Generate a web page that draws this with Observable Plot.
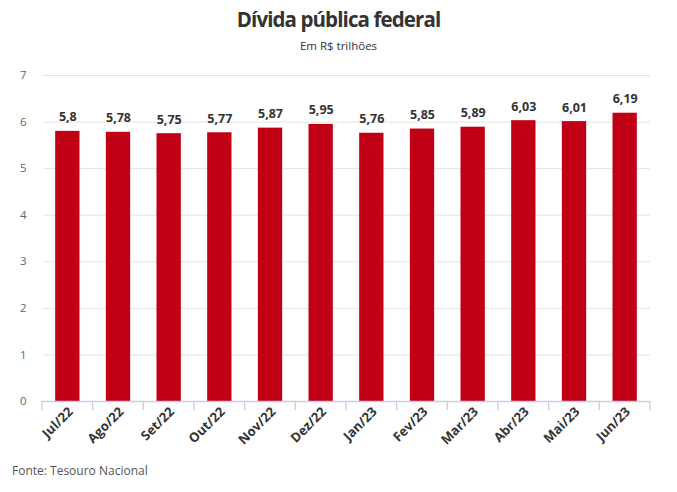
<!DOCTYPE html>
<html>
<head>
<meta charset="utf-8">
<script src="https://cdn.jsdelivr.net/npm/d3@7"></script>
<script src="https://cdn.jsdelivr.net/npm/@observablehq/plot@0.6"></script>
<style>
  html, body { margin: 0; padding: 0; background: #fff; }
  body { width: 677px; height: 492px; overflow: hidden; font-family: "Open Sans", sans-serif; }
  #title { text-align: center; font-weight: 700; font-size: 20.5px; letter-spacing: -0.9px; color: #333; height: 30px; line-height: 30px; padding-top: 4px; }
  #subtitle { text-align: center; font-size: 11.5px; color: #333; height: 22px; line-height: 20px; padding-top: 2px; }
  #caption { font-size: 12px; color: #555; padding-left: 12px; height: 30px; line-height: 18px; }
</style>
</head>
<body>
<div id="title">Dívida pública federal</div>
<div id="subtitle">Em R$ trilhões</div>
<div id="chart"></div>
<div id="caption">Fonte: Tesouro Nacional</div>
<script>
const months = ["Jul/22","Ago/22","Set/22","Out/22","Nov/22","Dez/22","Jan/23","Fev/23","Mar/23","Abr/23","Mai/23","Jun/23"];
const values = [5.8, 5.78, 5.75, 5.77, 5.87, 5.95, 5.76, 5.85, 5.89, 6.03, 6.01, 6.19];
const labels = ["5,8","5,78","5,75","5,77","5,87","5,95","5,76","5,85","5,89","6,03","6,01","6,19"];
const yTicks = [0, 1, 2, 3, 4, 5, 6, 7];

const data = months.map((m, i) => ({month: m, value: values[i], label: labels[i]}));

const chart = Plot.plot({
  width: 677,
  height: 404,
  marginTop: 17,
  marginBottom: 61,
  marginLeft: 42,
  marginRight: 27,
  style: {fontFamily: "Open Sans, sans-serif", background: "#fff"},
  x: {domain: months, paddingInner: 0.52, paddingOuter: 0.26, round: false, label: null, axis: null},
  y: {domain: [0, 7], ticks: yTicks, label: null, axis: null},
  marks: [
    Plot.ruleY(yTicks.filter(d => d > 0), {stroke: "#e3e3e3", insetLeft: 1}),
    Plot.axisY(yTicks, {tickSize: 0, tickPadding: 16, fontSize: 11.5, fill: "#666", textAnchor: "end"}),
    Plot.barY(data, {x: "month", y: "value", fill: "#c00014"}),
    Plot.text(data, {x: "month", y: "value", text: "label", dy: -10, lineAnchor: "bottom", fontWeight: 700, fontSize: 12.5, fill: "#333"}),
    Plot.ruleY([0], {stroke: "#c5d0e6", strokeWidth: 1.3}),
    Plot.axisX({tickSize: 0, tickRotate: -45, tickPadding: 5, fontSize: 13, fontWeight: 700, fill: "#333", textAnchor: "end", dx: 3, dy: 3})
  ]
});

// band-boundary tick marks on the x axis, positioned from the chart's own scales
const xs = chart.scale("x");
const ys = chart.scale("y");
const ns = "http://www.w3.org/2000/svg";
const g = document.createElementNS(ns, "g");
const step = xs.step, bw = xs.bandwidth;
const y0 = ys.apply(0);
const bounds = months.map(m => xs.apply(m) + bw / 2 - step / 2);
bounds.push(xs.apply(months[months.length - 1]) + bw / 2 + step / 2);
for (const bx of bounds) {
  const l = document.createElementNS(ns, "line");
  l.setAttribute("x1", bx); l.setAttribute("x2", bx);
  l.setAttribute("y1", y0); l.setAttribute("y2", y0 + 9);
  l.setAttribute("stroke", "#c5d0e6"); l.setAttribute("stroke-width", 1.3);
  g.appendChild(l);
}
chart.appendChild(g);
document.getElementById("chart").appendChild(chart);
</script>
</body>
</html>
